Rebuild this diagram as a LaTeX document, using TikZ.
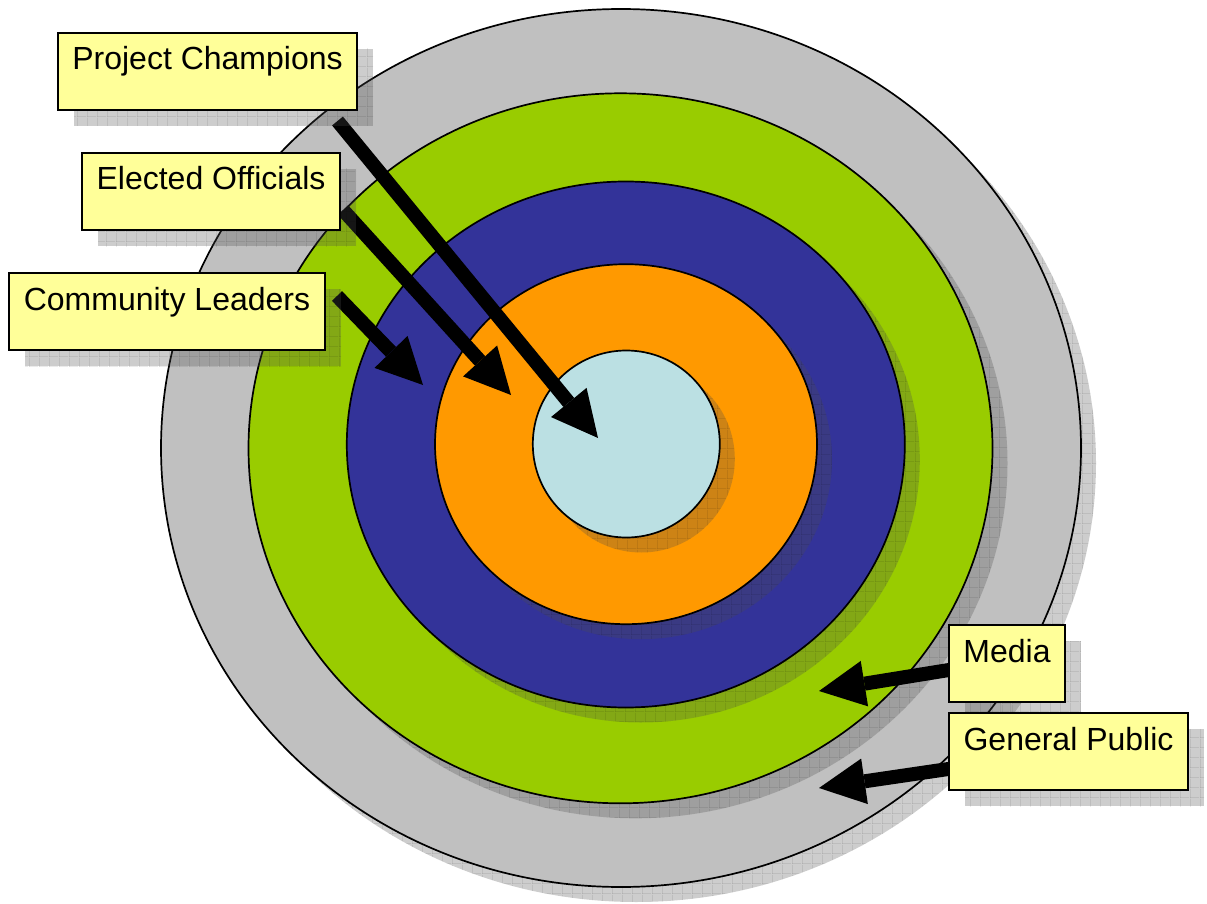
\documentclass[tikz,border=0pt]{standalone}
\usepackage{fontspec}
\setmainfont{Liberation Sans}
\usetikzlibrary{arrows.meta,shadows,calc,patterns.meta}
\pgfdeclarelayer{circ}
\pgfdeclarelayer{arr}
\pgfsetlayers{circ,arr,main}
\definecolor{ringgray}{RGB}{192,192,192}
\definecolor{ringgreen}{RGB}{153,204,0}
\definecolor{ringblue}{RGB}{51,51,153}
\definecolor{ringorange}{RGB}{255,153,0}
\definecolor{ringcore}{RGB}{187,224,227}
\definecolor{boxyellow}{RGB}{255,255,153}
\definecolor{shadowgray}{RGB}{77,77,77}
\tikzdeclarepattern{
  name=shgrid,
  type=uncolored,
  bounding box={(0pt,0pt) and (9.6pt,9.6pt)},
  tile size={(9.6pt,9.6pt)},
  code={\draw[line width=0.7pt] (0pt,0pt) -- (9.6pt,0pt) (0pt,0pt) -- (0pt,9.6pt);}
}
\begin{document}
\begin{tikzpicture}[x=1pt,y=-1pt,
  ring/.style={draw=black,line width=1.7pt},
  shadowfill/.style={fill=shadowgray,fill opacity=0.28,
    postaction={pattern={shgrid},pattern color=black,fill opacity=0.22}},
  labelbox/.style={draw=black,line width=1.7pt,fill=boxyellow,inner sep=0pt,outer sep=0pt,minimum height=77pt},
  labeltext/.style={anchor=base,font=\fontsize{32}{38}\selectfont,inner sep=0pt},
  bigarrow/.style={line width=14pt,-{Triangle[length=46pt,width=46pt,line width=0pt]}}
]
\useasboundingbox (0,0) rectangle (1207,904);
\begin{pgfonlayer}{circ}
  \fill[shadowfill] (636,463) ellipse [x radius=460, y radius=439];
  \draw[ring,fill=ringgray] (621,448) ellipse [x radius=460, y radius=439];
  \fill[shadowfill] (635.5,463.3) ellipse [x radius=372, y radius=355];
  \draw[ring,fill=ringgreen] (620.5,448.3) ellipse [x radius=372, y radius=355];
  \fill[shadowfill] (640.8,459.5) ellipse [x radius=279, y radius=263];
  \draw[ring,fill=ringblue] (625.8,444.5) ellipse [x radius=279, y radius=263];
  \fill[shadowfill] (641,459.2) ellipse [x radius=191, y radius=180];
  \draw[ring,fill=ringorange] (626,444.2) ellipse [x radius=191, y radius=180];
  \fill[shadowfill] (641.3,459) ellipse [x radius=93.5, y radius=93.5];
  \draw[ring,fill=ringcore] (626.3,444) ellipse [x radius=93.5, y radius=93.5];
\end{pgfonlayer}
\begin{pgfonlayer}{arr}
  \coordinate (pcTail) at (337.5,121);
  \coordinate (pcTip) at (598,438);
  \coordinate (eoTail) at (343,210);
  \coordinate (eoTip) at (511,395);
  \coordinate (clTail) at (337,296);
  \coordinate (clTip) at (423,385);
  \coordinate (mdTail) at (955,669);
  \coordinate (mdTip) at (819,691);
  \coordinate (gpTail) at (955,768);
  \coordinate (gpTip) at (819,788);
  \draw[bigarrow] (pcTail) -- (pcTip);
  \draw[bigarrow] (eoTail) -- (eoTip);
  \draw[bigarrow] (clTail) -- (clTip);
  \draw[bigarrow] (mdTail) -- (mdTip);
  \draw[bigarrow] (gpTail) -- (gpTip);
\end{pgfonlayer}
% box shadows
\fill[shadowfill] (74,49) rectangle (373,126);
\fill[shadowfill] (98,169) rectangle (356,246);
\fill[shadowfill] (25,289) rectangle (341,366);
\fill[shadowfill] (965,641) rectangle (1081,718);
\fill[shadowfill] (965,729) rectangle (1204,806);
% boxes
\node[labelbox,minimum width=299pt] (pc) at (207.5,71.5) {};
\node[labeltext] (pct) at ($(pc.north)+(0,37)$) {Project Champions};
\node[labelbox,minimum width=258pt] (eo) at (211,191.5) {};
\node[labeltext] (eot) at ($(eo.north)+(0,37)$) {Elected Officials};
\node[labelbox,minimum width=316pt] (cl) at (167,311.5) {};
\node[labeltext] (clt) at ($(cl.north)+(0,37)$) {Community Leaders};
\node[labelbox,minimum width=116pt] (md) at (1007,663.5) {};
\node[labeltext] (mdt) at ($(md.north)+(0,37)$) {Media};
\node[labelbox,minimum width=239pt] (gp) at (1068.5,751.5) {};
\node[labeltext] (gpt) at ($(gp.north)+(0,37)$) {General Public};
\end{tikzpicture}
\end{document}
